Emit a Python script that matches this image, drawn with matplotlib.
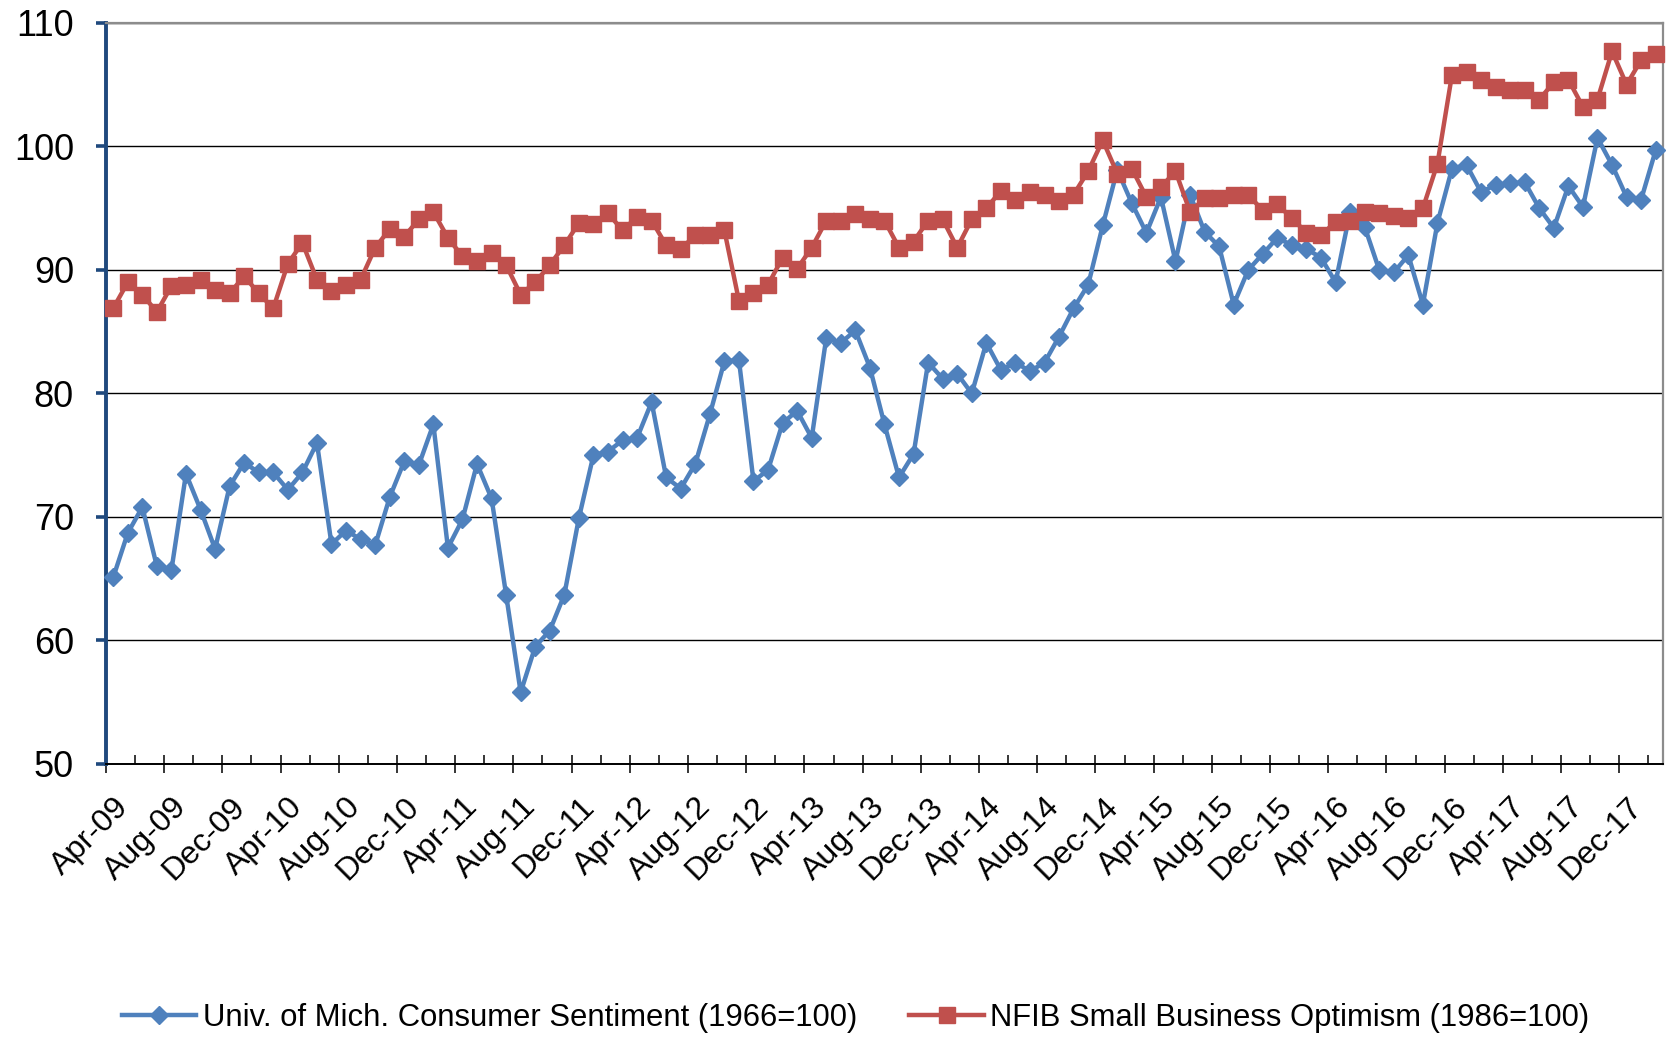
import numpy as np
import pandas as pd
import matplotlib
matplotlib.use("Agg")
import matplotlib.pyplot as plt

# -------------------------------------------------------------------------
# DATA  (monthly, Apr-09 .. Feb-18)
# -------------------------------------------------------------------------
months = pd.date_range("2009-04-01", "2018-02-01", freq="MS")

umich = [
    65.1, 68.7, 70.8, 66.0, 65.7, 73.5, 70.6, 67.4, 72.5,
    74.4, 73.6, 73.6, 72.2, 73.6, 76.0, 67.8, 68.9, 68.2, 67.7, 71.6, 74.5,
    74.2, 77.5, 67.5, 69.8, 74.3, 71.5, 63.7, 55.8, 59.5, 60.8, 63.7, 69.9,
    75.0, 75.3, 76.2, 76.4, 79.3, 73.2, 72.3, 74.3, 78.3, 82.6, 82.7, 72.9,
    73.8, 77.6, 78.6, 76.4, 84.5, 84.1, 85.1, 82.1, 77.5, 73.2, 75.1, 82.5,
    81.2, 81.6, 80.0, 84.1, 81.9, 82.5, 81.8, 82.5, 84.6, 86.9, 88.8, 93.6,
    98.1, 95.4, 93.0, 95.9, 90.7, 96.1, 93.1, 91.9, 87.2, 90.0, 91.3, 92.6,
    92.0, 91.7, 91.0, 89.0, 94.7, 93.5, 90.0, 89.8, 91.2, 87.2, 93.8, 98.2,
    98.5, 96.3, 96.9, 97.0, 97.1, 95.0, 93.4, 96.8, 95.1, 100.7, 98.5, 95.9,
    95.7, 99.7,
]

nfib = [
    86.9, 89.0, 88.0, 86.6, 88.7, 88.8, 89.2, 88.4, 88.1,
    89.5, 88.1, 86.9, 90.5, 92.2, 89.2, 88.3, 88.8, 89.2, 91.8, 93.3, 92.7,
    94.1, 94.7, 92.6, 91.1, 90.7, 91.4, 90.4, 88.0, 89.0, 90.4, 92.0, 93.8,
    93.7, 94.6, 93.2, 94.3, 94.0, 92.0, 91.7, 92.8, 92.8, 93.2, 87.5, 88.1,
    88.8, 91.0, 90.1, 91.8, 94.0, 94.0, 94.5, 94.1, 94.0, 91.8, 92.3, 94.0,
    94.1, 91.8, 94.1, 95.0, 96.4, 95.7, 96.3, 96.1, 95.6, 96.1, 98.0, 100.5,
    97.8, 98.2, 95.9, 96.7, 98.0, 94.7, 95.8, 95.8, 96.1, 96.1, 94.8, 95.3,
    94.2, 93.0, 92.8, 93.9, 94.0, 94.7, 94.6, 94.4, 94.2, 95.0, 98.6, 105.8,
    106.0, 105.4, 104.8, 104.6, 104.6, 103.8, 105.2, 105.4, 103.2, 103.8, 107.7, 105.0,
    107.0, 107.5,
]

tick_labels = [
    "Apr-09", "Aug-09", "Dec-09", "Apr-10", "Aug-10", "Dec-10", "Apr-11",
    "Aug-11", "Dec-11", "Apr-12", "Aug-12", "Dec-12", "Apr-13", "Aug-13",
    "Dec-13", "Apr-14", "Aug-14", "Dec-14", "Apr-15", "Aug-15", "Dec-15",
    "Apr-16", "Aug-16", "Dec-16", "Apr-17", "Aug-17", "Dec-17",
]
y_ticks = [50, 60, 70, 80, 90, 100, 110]

umich_label = "Univ. of Mich. Consumer Sentiment (1966=100)"
nfib_label = "NFIB Small Business Optimism (1986=100)"

BLUE = "#4F81BD"
RED = "#C0504D"
NAVY = "#1F497D"

plt.rcParams["font.family"] = ["Liberation Sans", "DejaVu Sans"]

# -------------------------------------------------------------------------
# PLOT
# -------------------------------------------------------------------------
fig = plt.figure(figsize=(16.71, 10.38), dpi=100)
ax = fig.add_axes([0.0634, 0.264, 0.9318, 0.7139])

n = len(months)
x = np.arange(n) + 0.5   # points sit in the middle of each category

ax.plot(x, umich, color=BLUE, lw=3.2, marker="D", ms=9.5,
        label=umich_label, clip_on=False, zorder=3)
ax.plot(x, nfib, color=RED, lw=3.2, marker="s", ms=12,
        label=nfib_label, clip_on=False, zorder=4)

ax.set_xlim(0, n)
ax.set_ylim(y_ticks[0], y_ticks[-1])

# y axis
ax.set_yticks(y_ticks)
ax.tick_params(axis="y", direction="out", length=7, width=2.6, color=NAVY,
               labelsize=26, pad=16)
ax.yaxis.grid(True, color="black", lw=1.0)
ax.set_axisbelow(True)

# x labels on category centres (no tick marks)
ax.set_xticks(np.arange(0, n, 4) + 0.5)
ax.set_xticklabels(tick_labels, rotation=45, ha="right", va="top",
                   rotation_mode="anchor")
ax.tick_params(axis="x", length=0, pad=20, labelsize=23)

# tick marks on category boundaries
sec = ax.secondary_xaxis("bottom")
sec.set_xticks(np.arange(0, n, 4))
sec.set_xticks(np.arange(2, n, 4), minor=True)
sec.tick_params(which="major", direction="inout", length=13.5, width=1.1,
                color="black", labelbottom=False)
sec.tick_params(which="minor", direction="in", length=6.5, width=1.1,
                color="black")
sec.spines["bottom"].set_visible(False)

ax.spines["left"].set_color(NAVY)
ax.spines["left"].set_linewidth(2.8)
ax.spines["bottom"].set_color("black")
ax.spines["bottom"].set_linewidth(1.4)
for side in ("top", "right"):
    ax.spines[side].set_color("#8C8C8C")
    ax.spines[side].set_linewidth(1.6)

fig.legend(loc="center", bbox_to_anchor=(0.512, 20 / 1038), ncol=2,
           frameon=False, handlelength=2.4, handletextpad=0.2,
           columnspacing=1.7, prop={"size": 22.3})

fig.savefig("out.png", dpi=100)
